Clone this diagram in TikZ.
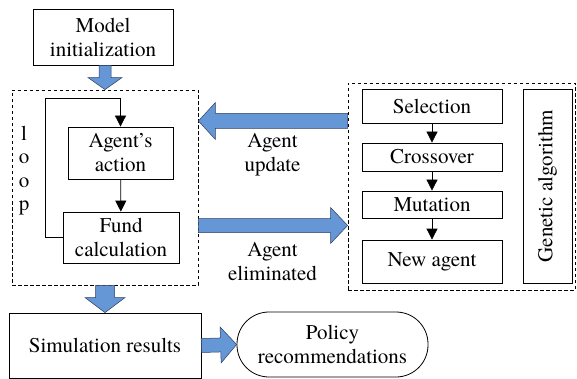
\documentclass[tikz,border=0pt]{standalone}
\usepackage{fontspec}
\setmainfont{texgyretermes-regular.otf}[BoldFont=texgyretermes-bold.otf,ItalicFont=texgyretermes-italic.otf]
\usetikzlibrary{calc,arrows.meta}

\definecolor{arrowblue}{RGB}{101,150,214}
\definecolor{arrowedge}{RGB}{45,62,100}

% Wide block arrow from #1 (tail) to #2 (tip):
% #3 shaft half-width, #4 head half-width, #5 head length
\newcommand\blockarrow[5]{%
  \coordinate (ba-base) at ($(#2)!#5!(#1)$);
  \filldraw[blockarrowstyle]
    ($(#1)!#3!90:(#2)$) -- ($(ba-base)!#3!-90:(#1)$) --
    ($(ba-base)!#4!-90:(#1)$) -- (#2) --
    ($(ba-base)!#4!90:(#1)$) -- ($(ba-base)!#3!90:(#1)$) --
    ($(#1)!#3!-90:(#2)$) -- cycle;
}

\begin{document}
\begin{tikzpicture}[x=1pt,y=-1pt,
  every node/.style={font=\rmfamily\fontsize{21}{24}\selectfont},
  box/.style={draw,line width=0.8pt,inner sep=0pt,align=center},
  dashbox/.style={draw,line width=0.8pt,dash pattern=on 3.5pt off 2.5pt,inner sep=0pt},
  flow/.style={line width=0.8pt,-{Triangle[length=11pt,width=11pt]}},
  blockarrowstyle/.style={fill=arrowblue,draw=arrowedge,line width=0.5pt,line join=miter},
  lbl/.style={inner sep=0pt,align=center}]

\useasboundingbox (0,0) rectangle (577,379);

% main simulation flow
\node[box,minimum width=140pt,minimum height=56pt] (init) at (103,37) {Model\\initialization};
\node[dashbox,minimum width=186pt,minimum height=195pt] (loopbox) at (105,187.5) {};
\node[box,minimum width=105pt,minimum height=52pt] (act) at (120.5,153) {Agent’s\\action};
\node[box,minimum width=116pt,minimum height=51pt] (fund) at (121,237.5) {Fund\\calculation};
\node[box,minimum width=192pt,minimum height=65pt] (sim) at (105,345.5) {Simulation results};
\node[box,rounded corners=32pt,minimum width=191pt,minimum height=65pt] (policy) at (332.5,344.5) {Policy\\recommendations};

% vertical "loop" label
\node[lbl,anchor=base] (l1) at (24,141) {l};
\node[lbl,anchor=base] (l2) at (24,164) {o};
\node[lbl,anchor=base] (l3) at (24,187) {o};
\node[lbl,anchor=base] (l4) at (24,210) {p};

% genetic algorithm block
\node[dashbox,minimum width=227pt,minimum height=207pt] (gabox) at (461.5,186.5) {};
\node[box,minimum width=140pt,minimum height=34pt] (sel) at (432,106) {Selection};
\node[box,minimum width=140pt,minimum height=28pt] (cro) at (432,157) {Crossover};
\node[box,minimum width=140pt,minimum height=27pt] (mut) at (432,204.5) {Mutation};
\node[box,minimum width=140pt,minimum height=43pt] (newag) at (432,261.5) {New agent};
\node[box,minimum width=49pt,minimum height=194pt] (ga) at (547.5,186) {};
\node[lbl,rotate=90] (galbl) at (ga.center) {Genetic algorithm};

% inner flow arrows
\draw[flow] (act) -- (fund);
\draw[flow] (sel) -- (cro);
\draw[flow] (cro) -- (mut);
\draw[flow] (mut) -- (newag);
\draw[flow] (fund.west) -- ++(-17,0) |- ($(act.north)+(0,-28)$) -- (act.north);

% block arrows
\coordinate (updy) at (0,121);
\coordinate (elimy) at (0,225.5);
\coordinate (t1) at (loopbox.north |- init.south);
\blockarrow{t1}{loopbox.north}{6pt}{17pt}{12pt}
\blockarrow{loopbox.south}{sim.north}{9.5pt}{20pt}{15pt}
\blockarrow{sim.east}{policy.west}{7pt}{18pt}{16pt}
\coordinate (t4) at (gabox.west |- updy);
\coordinate (p4) at (loopbox.east |- updy);
\blockarrow{t4}{p4}{7.5pt}{18.5pt}{17pt}
\coordinate (t5) at (loopbox.east |- elimy);
\coordinate (p5) at (gabox.west |- elimy);
\blockarrow{t5}{p5}{7pt}{18pt}{17pt}

% arrow labels
\node[lbl] (updlbl) at (272.5,155) {Agent\\update};
\node[lbl] (elimlbl) at (272.5,261.5) {Agent\\eliminated};
\end{tikzpicture}
\end{document}
